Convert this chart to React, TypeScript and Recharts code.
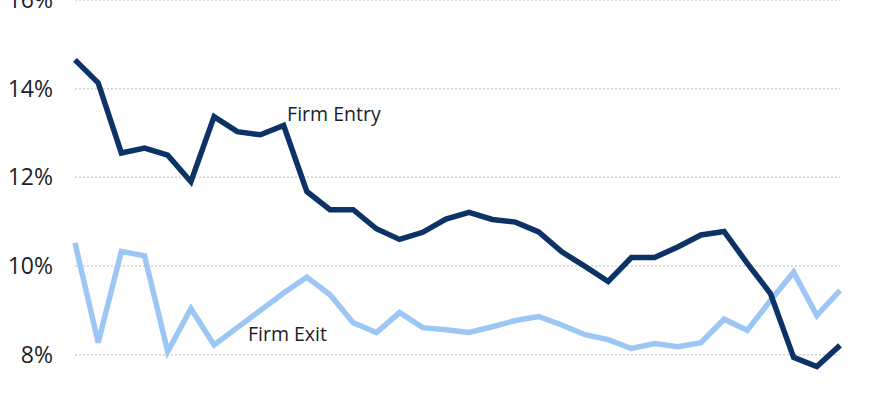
import React from 'react';
import { LineChart, Line, XAxis, YAxis, CartesianGrid, ReferenceDot } from 'recharts';

const years = [1978,1979,1980,1981,1982,1983,1984,1985,1986,1987,1988,1989,1990,1991,1992,1993,1994,1995,1996,1997,1998,1999,2000,2001,2002,2003,2004,2005,2006,2007,2008,2009,2010,2011];
const firmEntry = [14.65,14.13,12.55,12.66,12.5,11.9,13.37,13.03,12.96,13.17,11.68,11.27,11.27,10.84,10.6,10.76,11.06,11.21,11.05,10.99,10.77,10.32,9.99,9.65,10.19,10.19,10.43,10.7,10.78,10.06,9.38,7.94,7.73,8.21];
const firmExit = [10.52,8.27,10.33,10.23,8.07,9.04,8.22,8.61,9.0,9.39,9.75,9.35,8.72,8.5,8.95,8.61,8.56,8.5,8.63,8.77,8.86,8.67,8.45,8.34,8.14,8.25,8.18,8.27,8.8,8.55,9.22,9.86,8.88,9.45];
const yTicks = [8, 10, 12, 14, 16];
const seriesLabels = { entry: 'Firm Entry', exit: 'Firm Exit' };

const data = years.map((year, i) => ({ year, entry: firmEntry[i], exit: firmExit[i] }));

const FONT = '"Open Sans", sans-serif';

const makeLabel = (text: string) => (props: any) => {
  const vb = props.viewBox || {};
  return (
    <text x={vb.x} y={vb.y} fill="#1a1f28" fontSize={19.5} fontFamily={FONT} textAnchor="start">
      {text}
    </text>
  );
};

export default function App() {
  return (
    <div style={{ position: 'absolute', left: 0, top: -20 }}>
      <LineChart width={890} height={420} data={data} margin={{ top: 20, right: 50, bottom: 1, left: 0 }}>
        <CartesianGrid vertical={false} stroke="#d2d2d2" strokeDasharray="2 2" strokeWidth={1.5} />
        <XAxis dataKey="year" type="number" domain={[1978, 2011]} hide />
        <YAxis
          type="number"
          domain={[7, 16]}
          ticks={yTicks}
          width={75}
          axisLine={false}
          tickLine={false}
          tickSize={0}
          tickMargin={22}
          tickFormatter={(v: number) => `${v}%`}
          tick={{ fill: '#1a1f28', fontSize: 23, fontFamily: FONT }}
        />
        <Line dataKey="exit" stroke="#9cc6f3" strokeWidth={5.5} dot={false} isAnimationActive={false} strokeLinejoin="miter" />
        <Line dataKey="entry" stroke="#0b3366" strokeWidth={5.5} dot={false} isAnimationActive={false} strokeLinejoin="miter" />
        <ReferenceDot x={1987.15} y={13.28} r={0} fill="none" stroke="none" ifOverflow="visible" label={makeLabel(seriesLabels.entry)} />
        <ReferenceDot x={1985.46} y={8.31} r={0} fill="none" stroke="none" ifOverflow="visible" label={makeLabel(seriesLabels.exit)} />
      </LineChart>
    </div>
  );
}
